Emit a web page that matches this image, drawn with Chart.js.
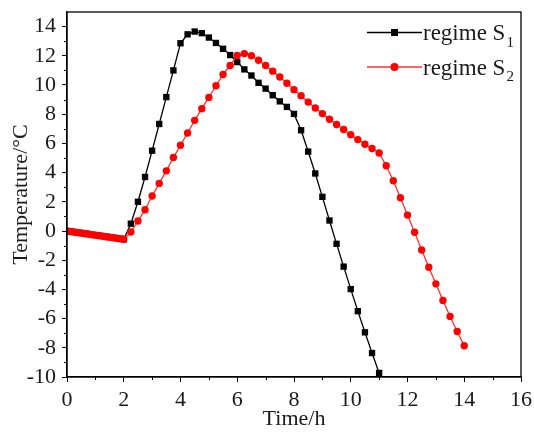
<!DOCTYPE html>
<html>
<head>
<meta charset="utf-8">
<script src="https://cdn.jsdelivr.net/npm/chart.js@4.4.1/dist/chart.umd.min.js"></script>
<style>
  html, body { margin: 0; padding: 0; background: #fff; }
  #wrap { width: 534px; height: 432px; }
</style>
</head>
<body>
<div id="wrap"><canvas id="tempChart" width="534" height="432"></canvas></div>
<script>
// time (h) and temperature (°C)
const s1Time = [0, 0.125, 0.25, 0.375, 0.5, 0.625, 0.75, 0.875, 1, 1.125, 1.25, 1.375, 1.5, 1.625, 1.75, 1.875, 2,
  2.25, 2.5, 2.75, 3, 3.25, 3.5, 3.75, 4, 4.25, 4.5, 4.75, 5, 5.25, 5.5, 5.75, 6, 6.25, 6.5, 6.75, 7,
  7.25, 7.5, 7.75, 8, 8.25, 8.5, 8.75, 9, 9.25, 9.5, 9.75, 10, 10.25, 10.5, 10.75, 11];
const s1Temp = [0, -0.04, -0.07, -0.11, -0.14, -0.18, -0.21, -0.25, -0.28, -0.32, -0.35, -0.39, -0.42, -0.46, -0.49, -0.53, -0.57,
  0.5, 2.0, 3.7, 5.5, 7.33, 9.17, 11.0, 12.86, 13.47, 13.66, 13.55, 13.25, 12.88, 12.48, 12.05, 11.57, 11.07, 10.65, 10.15, 9.75,
  9.3, 8.88, 8.5, 8.02, 6.9, 5.44, 3.94, 2.34, 0.72, -0.88, -2.44, -3.98, -5.49, -6.94, -8.36, -9.72];

const s2Time = [0, 0.125, 0.25, 0.375, 0.5, 0.625, 0.75, 0.875, 1, 1.125, 1.25, 1.375, 1.5, 1.625, 1.75, 1.875, 2,
  2.25, 2.5, 2.75, 3, 3.25, 3.5, 3.75, 4, 4.25, 4.5, 4.75, 5, 5.25, 5.5, 5.75, 6, 6.25, 6.5, 6.75, 7,
  7.25, 7.5, 7.75, 8, 8.25, 8.5, 8.75, 9, 9.25, 9.5, 9.75, 10, 10.25, 10.5, 10.75, 11,
  11.25, 11.5, 11.75, 12, 12.25, 12.5, 12.75, 13, 13.25, 13.5, 13.75, 14];
const s2Temp = [0, -0.04, -0.07, -0.11, -0.14, -0.18, -0.21, -0.25, -0.28, -0.32, -0.35, -0.39, -0.42, -0.46, -0.49, -0.53, -0.57,
  -0.07, 0.68, 1.46, 2.4, 3.26, 4.12, 5.03, 5.87, 6.71, 7.58, 8.38, 9.15, 9.95, 10.72, 11.34, 12.02, 12.15, 12.0, 11.7, 11.34,
  10.95, 10.55, 10.12, 9.68, 9.27, 8.83, 8.42, 8.04, 7.65, 7.29, 6.95, 6.6, 6.26, 5.94, 5.65, 5.34,
  4.47, 3.44, 2.28, 1.09, -0.09, -1.3, -2.48, -3.62, -4.76, -5.85, -6.88, -7.86];

const xTicks = [0, 2, 4, 6, 8, 10, 12, 14, 16];
const xMinor = [1, 3, 5, 7, 9, 11, 13, 15];
const yTicks = [-10, -8, -6, -4, -2, 0, 2, 4, 6, 8, 10, 12, 14];
const yMinor = [-9, -7, -5, -3, -1, 1, 3, 5, 7, 9, 11, 13];
const seriesNames = ["regime S", "regime S"];
const seriesSubs = ["1", "2"];

const FONT = "'Liberation Serif', 'Times New Roman', serif";

function toPoints(xs, ys) {
  return xs.map((x, i) => ({ x: x, y: ys[i] }));
}

// minor ticks + frame round the plot
const framePlugin = {
  id: "frame",
  afterDraw: (chart) => {
    const ctx = chart.ctx;
    const a = chart.chartArea;
    const xs = chart.scales.x;
    const ys = chart.scales.y;
    ctx.save();
    ctx.strokeStyle = "#000";
    ctx.lineWidth = 1.3;
    ctx.strokeRect(a.left, a.top, a.right - a.left, a.bottom - a.top);
    ctx.lineWidth = 1;
    ctx.beginPath();
    xMinor.forEach(v => {
      const px = Math.round(xs.getPixelForValue(v)) + 0.5;
      ctx.moveTo(px, a.bottom);
      ctx.lineTo(px, a.bottom + 3);
    });
    yMinor.forEach(v => {
      const py = Math.round(ys.getPixelForValue(v)) + 0.5;
      ctx.moveTo(a.left - 3, py);
      ctx.lineTo(a.left, py);
    });
    ctx.stroke();
    ctx.restore();
  }
};

// legend with subscripts, top right inside the plot
const legendPlugin = {
  id: "subLegend",
  afterDraw: (chart) => {
    const ctx = chart.ctx;
    const a = chart.chartArea;
    const ds = chart.data.datasets;
    ctx.save();
    const x0 = a.right - 154;
    const x1 = a.right - 99;
    [0, 1].forEach(i => {
      const y = a.top + 20.5 + i * 34.5;
      const d = ds[i];
      ctx.strokeStyle = d.borderColor;
      ctx.lineWidth = 1.3;
      ctx.beginPath();
      ctx.moveTo(x0, y);
      ctx.lineTo(x1, y);
      ctx.stroke();
      ctx.fillStyle = d.pointBackgroundColor;
      const mx = (x0 + x1) / 2;
      if (d.pointStyle === "rect") {
        ctx.fillRect(mx - 3.5, y - 3.5, 7, 7);
      } else {
        ctx.beginPath();
        ctx.arc(mx, y, 4, 0, Math.PI * 2);
        ctx.fill();
      }
      ctx.fillStyle = "#1a1a1a";
      ctx.textBaseline = "alphabetic";
      ctx.textAlign = "left";
      ctx.font = "23px " + FONT;
      ctx.fillText(seriesNames[i], x1 + 1, y + 7.5);
      const w = ctx.measureText(seriesNames[i]).width;
      ctx.font = "15px " + FONT;
      ctx.fillText(seriesSubs[i], x1 + 2 + w, y + 14);
    });
    ctx.restore();
  }
};

const tickFont = { family: FONT, size: 22 };

new Chart(document.getElementById("tempChart").getContext("2d"), {
  type: "line",
  data: {
    datasets: [{
      label: "regime S1",
      data: toPoints(s1Time, s1Temp),
      borderColor: "#000000",
      backgroundColor: "#000000",
      pointBackgroundColor: "#000000",
      pointBorderColor: "#000000",
      pointStyle: "rect",
      pointRadius: 4.5,
      pointBorderWidth: 0,
      borderWidth: 1.3,
      tension: 0,
      order: 1
    }, {
      label: "regime S2",
      data: toPoints(s2Time, s2Temp),
      borderColor: "#ff3030",
      backgroundColor: "#ff0000",
      pointBackgroundColor: "#ff0000",
      pointBorderColor: "#ff0000",
      pointStyle: "circle",
      pointRadius: 3.7,
      pointBorderWidth: 0,
      borderWidth: 1.3,
      tension: 0,
      order: 0
    }]
  },
  options: {
    responsive: false,
    animation: false,
    devicePixelRatio: 1,
    layout: { padding: { left: 0, top: 12, right: 13, bottom: 0 } },
    plugins: {
      legend: { display: false },
      tooltip: { enabled: false },
      title: { display: false }
    },
    scales: {
      x: {
        type: "linear",
        min: 0,
        max: 16,
        afterBuildTicks: (scale) => { scale.ticks = xTicks.map(v => ({ value: v })); },
        afterFit: (scale) => { scale.height = 55; scale.paddingLeft = 0; scale.paddingRight = 0; },
        ticks: { color: "#1a1a1a", font: tickFont, padding: 5, maxRotation: 0, autoSkip: false },
        grid: { display: true, drawOnChartArea: false, drawTicks: true, tickLength: 5, color: "#000", tickColor: "#000", tickWidth: 1 },
        border: { display: true, color: "#000", width: 1.3 },
        title: { display: true, text: "Time/h", color: "#1a1a1a", font: tickFont, padding: { top: 0, bottom: 0 } }
      },
      y: {
        type: "linear",
        min: -10,
        max: 15,
        afterBuildTicks: (scale) => { scale.ticks = yTicks.map(v => ({ value: v })); },
        afterFit: (scale) => { scale.width = 67; scale.paddingTop = 0; scale.paddingBottom = 0; },
        ticks: { color: "#1a1a1a", font: tickFont, padding: 6, autoSkip: false },
        grid: { display: true, drawOnChartArea: false, drawTicks: true, tickLength: 5, color: "#000", tickColor: "#000", tickWidth: 1 },
        border: { display: true, color: "#000", width: 1.3 },
        title: { display: true, text: "Temperature/°C", color: "#1a1a1a", font: tickFont, padding: { top: 8, bottom: 0 } }
      }
    }
  },
  plugins: [framePlugin, legendPlugin]
});
</script>
</body>
</html>
